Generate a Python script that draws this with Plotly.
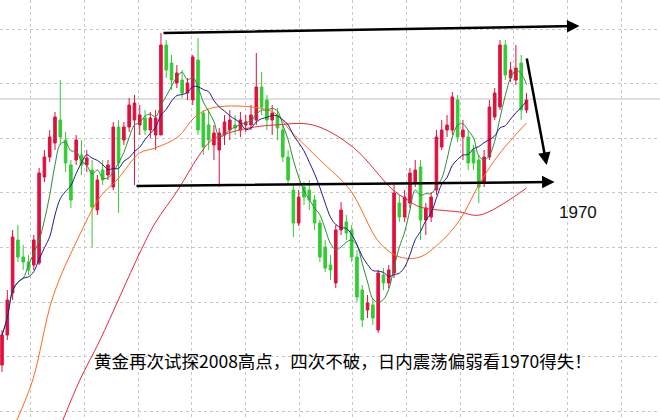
import plotly.graph_objects as go
import pandas as pd

opens = [1924.25,1931.75,1942.25,1955.5,1951.25,1950,1949.25,1949.75,1971.25,1976.25,
         1979.75,1985.5,1980.5,1974.25,1975.5,1976.75,1974.25,1973,1963,1973,
         1971.75,1968.75,1983.75,1980.5,1983.75,1985.5,1984.25,1986,1983,1981.75,
         1981.75,2004.25,1999.75,1994.75,1995.5,1992.25,1990.5,2000.5,1987.25,1984.25,
         1979.25,1978,1981.75,1983,1984.25,1983,1984.25,1984.25,1985.5,1993.75,
         1990.5,1985.5,1986.75,1983,1976.25,1968,1959.75,1968.75,1968,1965.5,
         1959.75,1953.75,1949.25,1944.75,1958,1960,1958,1951.25,1943,1938,
         1939.25,1933,1946.75,1944.75,1947.25,1964.75,1961.25,1964.75,1969.75,1973.75,
         1960.5,1961.25,1968,1978.75,1983,1983,1990.5,1981.25,1981.25,1978,
         1975.5,1969.75,1976.25,1986.25,1988.75,2004.25,1996,1995.5,1999.75,1988]
closes = [1931.75,1940.5,1956.25,1951.25,1950,1948,1955.5,1972.25,1976.25,1981.25,
          1986.25,1981.25,1974.75,1965.5,1980.5,1974.25,1976,1963.75,1970.5,1970.5,
          1974.25,1983.75,1974.75,1983.75,1989.25,1989.75,1986.75,1983,1986,1986,
          2004.25,1998,1995.5,1997.25,1992.25,1994.75,2001.25,1983,1978.75,1980.5,
          1982.25,1982.25,1985,1985.5,1983.5,1985.5,1985,1986.75,1993.75,1988.75,
          1985.5,1987.25,1983.5,1976.25,1970.5,1959.75,1966.25,1966.25,1965.5,1959.75,
          1951.25,1948.5,1948,1958,1963,1957.25,1951.25,1941.25,1935.5,1939.75,
          1936,1947.25,1944.75,1948,1967.25,1961.25,1966.25,1972.25,1973,1960.5,
          1963.5,1966.25,1981.25,1983,1984.25,1991.25,1981.25,1983,1974.75,1974.75,
          1968.75,1976.25,1988.75,1992.25,2004.25,1996.75,1998,1998.5,1988,1990.5]
highs = [1933,1943,1958,1959.25,1954.25,1951.75,1956.75,1973.5,1978,1983,
         1987.5,1995.5,1982.5,1975.5,1981.75,1980.5,1978,1975.5,1971.75,1975.5,
         1975.5,1985,1985.5,1985,1991,1991.75,1989.25,1988,1987.5,1988,
         2007.25,2005.5,2001.75,1999.25,1998,1996,2001.75,2006,1988,1988,
         1984.25,1983.5,1986.75,1988,1986.75,1987.5,1986.75,1989.25,2002.25,1997.5,
         1991.75,1989.25,1988.5,1984.25,1978,1969.25,1968,1970,1970.5,1966.75,
         1960.5,1955.5,1951.75,1959.25,1965,1961.75,1959.25,1953,1944.25,1941.75,
         1941,1948,1948.5,1949.25,1969.25,1966.75,1968,1973.5,1975.5,1975.5,
         1964.75,1967.5,1983,1985.5,1986.75,1992.5,1991.75,1985.5,1983,1979.25,
         1976.75,1978,1990.5,1993.5,2005.5,2005.5,2000,2004.25,2001.75,1992.25]
lows = [1922.5,1930.5,1940.5,1950,1948,1946.75,1948,1949.25,1970,1975,
        1978,1979.25,1972.5,1963.5,1974.25,1971.75,1972.5,1953.75,1961.75,1969.25,
        1970.5,1968,1962.25,1979.25,1982.5,1969.25,1981.75,1981.75,1981,1978,
        1981.75,1996,1993,1993.5,1991,1990.5,1989.25,1981.75,1976.75,1978,
        1975.5,1968.75,1979.25,1980.5,1981.75,1981.25,1982.5,1983,1984.25,1986.75,
        1983,1981.75,1980.5,1975,1969.25,1956.25,1959,1964.25,1963,1958,
        1950,1947.5,1945.5,1943.5,1956.75,1955.5,1950,1940,1933.75,1936,
        1934.25,1932.25,1943,1943.5,1946,1960,1960,1963.5,1968.75,1955.5,
        1956.75,1960,1966.75,1978,1981.25,1981.75,1980,1975.5,1973,1973,
        1964.75,1968.75,1975.5,1985.5,1988,1995.5,1995,1994.25,1985.5,1987.25]

ma_orange_x = [2.8,5.8,9.6,14.2,18.5,21.7,26,28.9,33.2,36.4,39.6,47.2,51.5,54.3,60,65.7,71.3,75.1,78.9,82.6,86.4,90.2,94,99]
ma_orange_y = [1910.5,1920.5,1941.25,1955.5,1966.25,1970.5,1977.25,1978.5,1981.25,1986.25,1988.5,1988.75,1987.25,1983,1975.5,1968,1954.75,1951.25,1951.25,1954.75,1960.5,1969.75,1977.25,1984.75]
ma_red_x = [11.5,14.7,18.5,26,28.9,33.2,37,39.6,43.4,47.7,51.5,58.7,66.2,73.8,76.6,78.9,86.4,90.2,99]
ma_red_y = [1910.5,1920.5,1930.5,1952.25,1959.75,1968,1976.25,1980.5,1982.5,1983.75,1984.25,1984.25,1978.75,1968,1965.5,1963.75,1962.5,1961.75,1968.5]

idx = list(range(len(closes)))
s = pd.Series(closes)
ma5 = s.rolling(5, min_periods=1).mean()
ma10 = s.rolling(10, min_periods=1).mean()

fig = go.Figure()
fig.add_trace(go.Scatter(x=ma_red_x, y=ma_red_y, mode="lines", line=dict(color="#e8283a", width=1, shape="spline")))
fig.add_trace(go.Scatter(x=ma_orange_x, y=ma_orange_y, mode="lines", line=dict(color="#ff6a1a", width=1, shape="spline")))
fig.add_trace(go.Candlestick(x=idx, open=opens, high=highs, low=lows, close=closes,
    increasing=dict(line=dict(color="#e0103c", width=1), fillcolor="#e0103c"),
    decreasing=dict(line=dict(color="#33cc33", width=1), fillcolor="#33cc33"),
    whiskerwidth=0))
fig.add_trace(go.Scatter(x=idx, y=ma5, mode="lines", line=dict(color="#2e8b3a", width=1, shape="spline")))
fig.add_trace(go.Scatter(x=idx, y=ma10, mode="lines", line=dict(color="#1c1c8a", width=1, shape="spline")))

fig.add_shape(type="line", xref="paper", x0=0, x1=1, yref="y", y0=1990.75, y1=1990.75,
              line=dict(color="#c0c0c0", width=1), layer="below")

arrows = [(30.2, 2007.25, 109.0, 2009.0), (25.1, 1969.0, 104.3, 1970.0), (99.0, 2001.25, 102.8, 1974.25)]
for x0, y0, x1, y1 in arrows:
    fig.add_annotation(x=x1, y=y1, ax=x0, ay=y0, xref="x", yref="y", axref="x", ayref="y",
                       showarrow=True, arrowhead=2, arrowsize=1, arrowwidth=2.5, arrowcolor="black", text="")

fig.add_annotation(x=108.7, y=1962.5, text="1970", showarrow=False,
                   font=dict(size=17, color="#111111", family="Liberation Sans"))
fig.add_annotation(x=64.3, y=1925.5, text="黄金再次试探2008高点，四次不破，日内震荡偏弱看1970得失！", showarrow=False,
                   font=dict(size=17.5, color="black", family="Noto Sans CJK SC"))

fig.update_layout(width=660, height=420, margin=dict(l=0, r=0, t=0, b=0),
                  plot_bgcolor="white", paper_bgcolor="white", showlegend=False)
fig.update_xaxes(range=[-0.38, 124.2], showticklabels=False, zeroline=False, showline=False,
                 rangeslider_visible=False, showgrid=True, gridcolor="#c8c8c8", griddash="dot",
                 tick0=5.47, dtick=10.13)
fig.update_yaxes(range=[1910.5, 2015.5], showticklabels=False, zeroline=False, showline=False,
                 showgrid=True, gridcolor="#c8c8c8", griddash="dot", tick0=2008.25, dtick=13.65)
fig.write_html("out.html", config={"displayModeBar": False})

with open("out.html", encoding="utf-8") as f:
    html = f.read()
html = html.replace("<body>", '<body style="margin:0;overflow:hidden">', 1)
with open("out.html", "w", encoding="utf-8") as f:
    f.write(html)
